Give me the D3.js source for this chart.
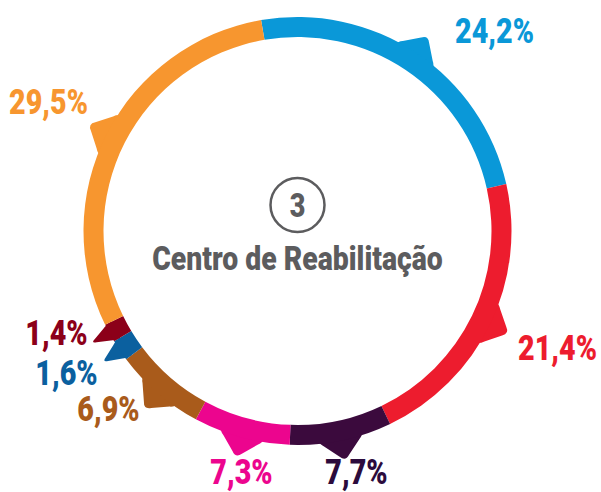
<!DOCTYPE html>
<html>
<head>
<meta charset="utf-8">
<script src="https://cdn.jsdelivr.net/npm/d3@7"></script>
<style>
  html, body { margin: 0; padding: 0; background: #fff; }
  svg { display: block; }
  .lbl { font-family: "Roboto", "Liberation Sans", sans-serif; font-weight: 900; }
</style>
</head>
<body>
<div id="chart"></div>
<script>
// Share of people per service, clockwise from the top
const categories = ["A", "B", "C", "D", "E", "F", "G", "H"];
const values = [24.2, 21.4, 7.7, 7.3, 6.9, 1.6, 1.4, 29.5];
const valueLabels = ["24,2%", "21,4%", "7,7%", "7,3%", "6,9%", "1,6%", "1,4%", "29,5%"];
const colors = ["#0a98d8", "#ed1c2e", "#3b0a3d", "#ec058e", "#a95b1b", "#0b609f", "#8c0019", "#f7962f"];
const labelColors = ["#0a98d8", "#ed1c2e", "#2c0b3c", "#ec058e", "#a95b1b", "#0b609f", "#8c0019", "#f7962f"];
const centerNumber = "3";
const centerTitle = "Centro de Reabilitação";

// Label anchors relative to the ring centre (text baseline, middle anchor)
const labelOffsets = [
  [197, -188], [260, 129], [59, 253], [-56, 253],
  [-189, 190], [-231, 154], [-241, 114], [-249, -117]
];

const W = 601, H = 492;
const cx = 297.5, cy = 231;
const outerR = 214, innerR = 194;
const startAngle = -9.8 * Math.PI / 180;
const condense = 0.82;   // horizontal squeeze for a condensed look

const svg = d3.select("#chart").append("svg")
  .attr("width", W).attr("height", H);

const g = svg.append("g").attr("transform", `translate(${cx},${cy})`);

const pie = d3.pie().sort(null).value(d => d.value)
  .startAngle(startAngle).endAngle(startAngle + 2 * Math.PI);

const data = categories.map((c, i) => ({ cat: c, value: values[i], i }));
const arcs = pie(data);

const arc = d3.arc().innerRadius(innerR).outerRadius(outerR);

// Pointer tab: rounded 90° tip with flared base, drawn pointing up from the ring's outer edge
const tabPath = "M -20,6 Q -18,0 -15,-2 L -4,-13 Q 0,-18 4,-13 L 15,-2 Q 18,0 20,6 Z";
const tabScale = 1.2;
g.selectAll("path.tab").data(arcs).join("path")
  .attr("class", "tab")
  .attr("d", tabPath)
  .attr("fill", d => colors[d.data.i])
  .attr("transform", d => {
    const a = (d.startAngle + d.endAngle) / 2;
    const x = outerR * Math.sin(a), y = -outerR * Math.cos(a);
    // narrow segments get a narrower tab so it stays within its own arc
    const arcLen = (d.endAngle - d.startAngle) * outerR;
    const sx = Math.min(tabScale, arcLen / 40);
    return `translate(${x},${y}) rotate(${a * 180 / Math.PI}) scale(${sx},${tabScale})`;
  });

g.selectAll("path.seg").data(arcs).join("path")
  .attr("class", "seg")
  .attr("d", arc)
  .attr("fill", d => colors[d.data.i]);

// Percentage labels
g.selectAll("text.val").data(arcs).join("text")
  .attr("class", "lbl val")
  .attr("transform", d => `translate(${labelOffsets[d.data.i][0]},${labelOffsets[d.data.i][1]}) scale(${condense},1)`)
  .attr("text-anchor", "middle")
  .attr("font-size", 35)
  .attr("fill", d => labelColors[d.data.i])
  .text(d => valueLabels[d.data.i]);

// Centre badge and title
const grey = "#5c5c5e";
g.append("circle")
  .attr("cx", 0).attr("cy", -26).attr("r", 27)
  .attr("fill", "none").attr("stroke", grey).attr("stroke-width", 2.5);
g.append("text").attr("class", "lbl")
  .attr("transform", `translate(0,-14) scale(${condense},1)`)
  .attr("text-anchor", "middle").attr("font-size", 33)
  .attr("fill", grey).text(centerNumber);
g.append("text").attr("class", "lbl")
  .attr("transform", `translate(0,39) scale(0.86,1)`)
  .attr("text-anchor", "middle").attr("font-size", 33)
  .attr("fill", grey).text(centerTitle);
</script>
</body>
</html>
